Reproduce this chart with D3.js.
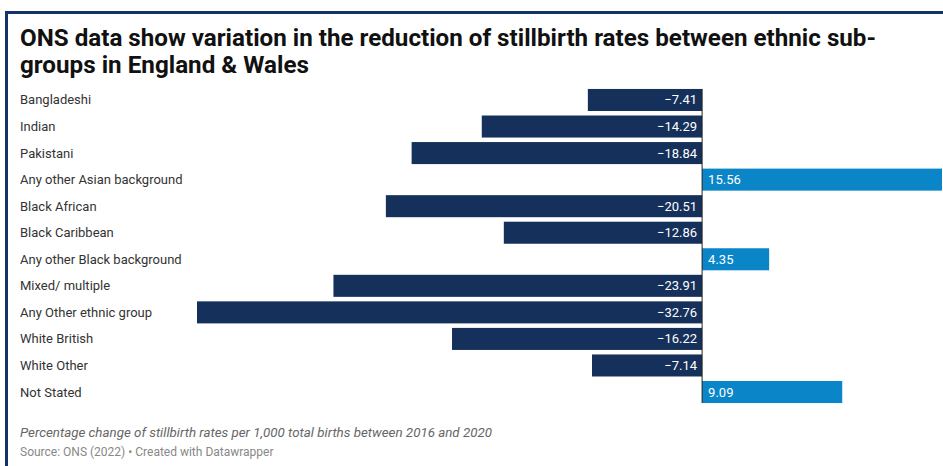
<!DOCTYPE html>
<html><head><meta charset="utf-8">
<script src="https://cdn.jsdelivr.net/npm/d3@7/dist/d3.min.js"></script>
<style>
html,body{margin:0;padding:0;background:#fff;}
svg{display:block;font-family:Roboto,"Noto Sans",sans-serif;}
</style></head>
<body><svg id="c" width="943" height="466"></svg>
<script>
const categories = ["Bangladeshi","Indian","Pakistani","Any other Asian background","Black African","Black Caribbean","Any other Black background","Mixed/ multiple","Any Other ethnic group","White British","White Other","Not Stated"];
const values = [-7.41,-14.29,-18.84,15.56,-20.51,-12.86,4.35,-23.91,-32.76,-16.22,-7.14,9.09];
const valueLabels = ["\u22127.41","\u221214.29","\u221218.84","15.56","\u221220.51","\u221212.86","4.35","\u221223.91","\u221232.76","\u221216.22","\u22127.14","9.09"];
const titleLines = ["ONS data show variation in the reduction of stillbirth rates between ethnic sub-","groups in England & Wales"];
const notes = "Percentage change of stillbirth rates per 1,000 total births between 2016 and 2020";
const source = "Source: ONS (2022) \u2022 Created with Datawrapper";

const svg = d3.select("#c");
const W = 943, H = 466;

// frame
svg.append("line").attr("x1",6.5).attr("x2",W).attr("y1",12.5).attr("y2",12.5).attr("stroke","#12346a").attr("stroke-width",3);
svg.append("line").attr("x1",6.5).attr("x2",6.5).attr("y1",11).attr("y2",H).attr("stroke","#12346a").attr("stroke-width",3);

// title
const tl = [876-20, 309-20];
titleLines.forEach((t,i)=>{
  svg.append("text").attr("x",20).attr("y",46+i*27).attr("font-size",23).attr("font-weight",700)
    .attr("fill","#111").attr("textLength",tl[i]).attr("lengthAdjust","spacingAndGlyphs").text(t);
});

const x = d3.scaleLinear().domain([-32.76, 15.56]).range([197, 942]);
const y = d3.scaleBand().domain(categories).range([86.7, 405.3]).paddingInner(0.17).paddingOuter(0.085);

const g = svg.append("g");
const rows = g.selectAll("g.row").data(categories.map((c,i)=>({c,v:values[i],l:valueLabels[i]}))).enter().append("g");
rows.append("text").attr("x",20).attr("y",d=>y(d.c)+y.bandwidth()/2+4.5).attr("font-size",13).attr("fill","#333").text(d=>d.c);
rows.append("rect").attr("x",d=>Math.min(x(0),x(d.v))).attr("width",d=>Math.abs(x(d.v)-x(0)))
  .attr("y",d=>y(d.c)).attr("height",y.bandwidth()).attr("fill",d=>d.v<0?"#15305a":"#0a86c8");
rows.append("text").attr("x",d=>d.v<0?x(0)-5:x(0)+6).attr("text-anchor",d=>d.v<0?"end":"start")
  .attr("y",d=>y(d.c)+y.bandwidth()/2+4.5).attr("font-size",13).attr("fill","#fff").text(d=>d.l);

svg.append("line").attr("x1",x(0)).attr("x2",x(0)).attr("y1",y(categories[0])).attr("y2",y(categories[categories.length-1])+y.bandwidth())
  .attr("stroke","#222").attr("stroke-width",1);

svg.append("text").attr("x",20).attr("y",437).attr("font-size",13).attr("font-style","italic").attr("fill","#666")
  .attr("textLength",472).attr("lengthAdjust","spacingAndGlyphs").text(notes);
svg.append("text").attr("x",20).attr("y",456).attr("font-size",12).attr("fill","#888").text(source);
</script></body></html>
